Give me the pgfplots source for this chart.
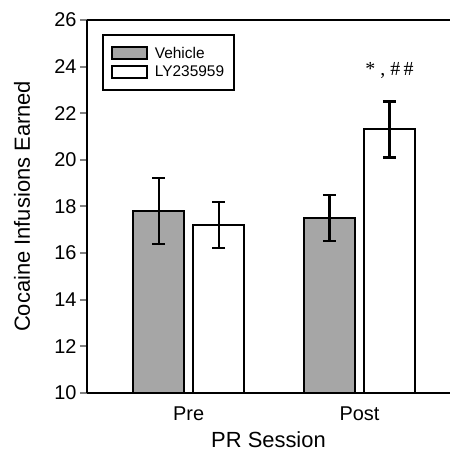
\documentclass[border=0pt]{standalone}
\usepackage{pgfplots}
\pgfplotsset{compat=1.18}
\usepackage{fontspec}
\setmainfont{Liberation Sans}
\newfontfamily\seriffont{Liberation Serif}
\definecolor{vehgray}{RGB}{166,166,166}
\begin{document}
\begin{tikzpicture}
\begin{axis}[
  scale only axis, width=363bp, height=372.7bp,
  xmin=-0.595, xmax=1.53, ymin=10, ymax=26,
  ytick={10,12,...,26},
  xtick={0,1}, xticklabels={Pre,Post},
  axis x line*=bottom, axis y line*=left,
  axis line style={line width=2.2bp, -},
  ytick style={line width=2bp}, tick align=outside, major tick length=7bp,
  xtick style={draw=none},
  /pgf/number format/assume math mode=true,
  tick label style={font=\fontsize{20}{22}\selectfont},
  xticklabel style={yshift=-4bp},
  label style={font=\fontsize{22}{24}\selectfont},
  xlabel={PR Session}, ylabel={Cocaine Infusions Earned},
  ylabel style={at={(rel axis cs:-0.179,0.5)}, anchor=center},
  xlabel style={at={(rel axis cs:0.5,-0.148)}, anchor=base},
  ybar=9bp, bar width=51bp,
  legend style={at={(0.041,0.962)}, anchor=north west, draw=black, line width=2bp,
    font=\fontsize{15.5}{17.5}\selectfont, inner xsep=8bp, inner ysep=10bp, row sep=2bp,
    cells={anchor=west},
    /tikz/every odd column/.append style={column sep=5bp}},
  legend image code/.code={\draw[#1, line width=2bp] (0bp,-6bp) rectangle (35bp,6bp);},
  legend cell align=left,
  clip=false,
]
\addplot[draw=black, line width=2bp, fill=vehgray,
  error bars/.cd, y dir=both, y explicit,
  error bar style={line width=2.2bp},
  error mark options={rotate=90, mark size=6.5bp, line width=2.2bp}]
  coordinates {(0,17.8) +- (0,1.4) (1,17.5) +- (0,1.0)};
\addplot[draw=black, line width=2bp, fill=white,
  error bars/.cd, y dir=both, y explicit,
  error bar style={line width=2.2bp},
  error mark options={rotate=90, mark size=6.5bp, line width=2.2bp}]
  coordinates {(0,17.2) +- (0,1.0) (1,21.3) +- (0,1.2)};
\legend{Vehicle, LY235959}
\draw[line width=2.2bp] (rel axis cs:0,1) -- (rel axis cs:1,1);
\node[font=\seriffont\fontsize{20}{20}\selectfont] at (axis cs:1.176,23.82) {* , \#\,\#};
\coordinate (bl) at (rel axis cs:0,0);
\coordinate (tr) at (rel axis cs:1,1);
\end{axis}
\pgfresetboundingbox
\useasboundingbox ([shift={(-87bp,-59.3bp)}]bl) rectangle ([shift={(0bp,20bp)}]tr);
\end{tikzpicture}
\end{document}
